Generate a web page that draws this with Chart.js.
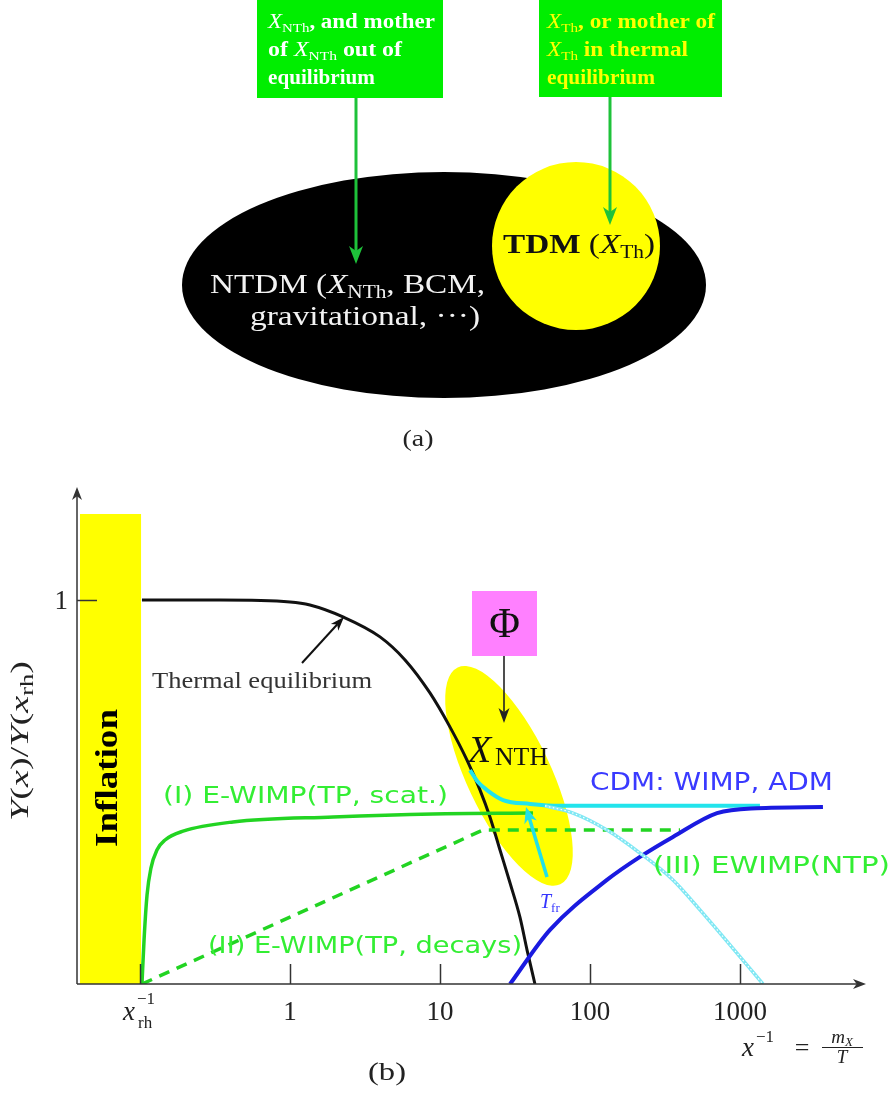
<!DOCTYPE html>
<html><head><meta charset="utf-8">
<script src="https://cdn.jsdelivr.net/npm/chart.js@4/dist/chart.umd.min.js"></script>
<style>html,body{margin:0;padding:0;background:#fff;overflow:hidden}canvas{display:block}</style>
</head><body>
<canvas id="c" width="894" height="1096"></canvas>
<script>
// x = log10(x^-1) = log10(m_X / T), y = Y(x)/Y(x_rh)
const tickValues = [-1, 0, 1, 2, 3];
const tickLabels = ['x_rh^-1', '1', '10', '100', '1000'];
const yTickValues = [1];
const yTickLabels = ['1'];

const thermalX = [-0.987, -0.467, 0, 0.133, 0.353, 0.6, 0.767, 0.933, 1.067, 1.18, 1.267, 1.333, 1.4, 1.467, 1.533, 1.58, 1.633];
const thermalY = [1, 1, 0.995, 0.987, 0.956, 0.904, 0.844, 0.758, 0.669, 0.583, 0.505, 0.435, 0.349, 0.263, 0.174, 0.089, 0];

const scatX = [-0.987, -0.973, -0.953, -0.927, -0.887, -0.833, -0.713, -0.38, 0.287, 0.953, 1.62];
const scatY = [0, 0.115, 0.232, 0.302, 0.349, 0.375, 0.398, 0.422, 0.435, 0.443, 0.445];

const decayX = [-0.987, 1.287, 2.6];
const decayY = [0, 0.401, 0.401];

const cdmX = [1.467, 1.733, 2.113, 2.333, 2.553, 2.847, 3.113, 3.553];
const cdmY = [0, 0.141, 0.271, 0.331, 0.383, 0.445, 0.458, 0.461];

const nthX = [1.2, 1.253, 1.313, 1.42, 1.6, 1.8, 3.133];
const nthY = [0.557, 0.526, 0.505, 0.479, 0.469, 0.464, 0.464];

const ntpX = [1.7, 1.887, 2.113, 2.333, 2.553, 2.733, 2.933, 3.153];
const ntpY = [0.464, 0.445, 0.401, 0.341, 0.271, 0.193, 0.102, 0];

const inflationX = [-1.4, -0.993];
const inflationTop = 1.224;

const SERIF = '"Liberation Serif","Times New Roman",serif';
const SANS = '"DejaVu Sans",sans-serif';
const F = (st, sz, fam) => `${st} ${sz}px ${fam || SERIF}`;

function runsWidth(ctx, runs) { let w = 0; for (const r of runs) { ctx.font = r.f; w += ctx.measureText(r.t).width; } return w; }
function drawRuns(ctx, runs, x, y, o = {}) {
  const nat = runsWidth(ctx, runs);
  const sx = o.w ? o.w / nat : 1;
  const total = nat * sx;
  let x0 = x;
  if (o.align === 'center') x0 = x - total / 2; else if (o.align === 'right') x0 = x - total;
  ctx.save();
  ctx.translate(x0, y);
  ctx.scale(sx, 1);
  ctx.textBaseline = 'alphabetic'; ctx.textAlign = 'left';
  let cx = 0;
  for (const r of runs) { ctx.font = r.f; ctx.fillStyle = r.c || o.c || '#000'; ctx.fillText(r.t, cx, r.dy || 0); cx += ctx.measureText(r.t).width; }
  ctx.restore();
}
function arrow(ctx, x1, y1, x2, y2, color, lw, hl, hw) {
  const a = Math.atan2(y2 - y1, x2 - x1);
  ctx.save(); ctx.strokeStyle = color; ctx.fillStyle = color; ctx.lineWidth = lw; ctx.lineCap = 'butt';
  ctx.beginPath(); ctx.moveTo(x1, y1); ctx.lineTo(x2 - Math.cos(a) * hl * 0.7, y2 - Math.sin(a) * hl * 0.7); ctx.stroke();
  ctx.translate(x2, y2); ctx.rotate(a);
  ctx.beginPath(); ctx.moveTo(0, 0); ctx.lineTo(-hl, -hw / 2); ctx.lineTo(-hl * 0.72, 0); ctx.lineTo(-hl, hw / 2); ctx.closePath(); ctx.fill();
  ctx.restore();
}

const pts = (xs, ys) => xs.map((x, i) => ({ x, y: ys[i] }));

const drawPlugin = {
  id: 'decor',
  beforeDatasetsDraw(chart) {
    const ctx = chart.ctx, xs = chart.scales.x, ys = chart.scales.y;
    ctx.save();
    // Inflation band
    const x0 = xs.getPixelForValue(inflationX[0]), x1 = xs.getPixelForValue(inflationX[1]);
    const yt = ys.getPixelForValue(inflationTop), yb = ys.getPixelForValue(0);
    ctx.fillStyle = '#ffff00';
    ctx.fillRect(x0, yt, x1 - x0, yb - yt);
    // Non-thermal production region (yellow tilted ellipse)
    const ecx = xs.getPixelForValue(1.46), ecy = ys.getPixelForValue(0.542);
    ctx.beginPath(); ctx.ellipse(ecx, ecy, 120, 42, 64.7 * Math.PI / 180, 0, Math.PI * 2); ctx.fill();
    ctx.restore();
  },
  afterDatasetsDraw(chart) {
    const ctx = chart.ctx, xs = chart.scales.x, ys = chart.scales.y;
    const ca = chart.chartArea;
    ctx.save();
    // Axes
    const ax = '#333';
    ctx.strokeStyle = ax; ctx.lineWidth = 1.5;
    arrow(ctx, ca.left, ca.bottom, ca.right, ca.bottom, ax, 1.5, 13, 10);
    arrow(ctx, ca.left, ca.bottom, ca.left, ca.top, ax, 1.5, 13, 10);
    ctx.strokeStyle = ax; ctx.lineWidth = 1.5;
    tickValues.forEach(v => {
      const px = Math.round(xs.getPixelForValue(v)) + 0.5;
      ctx.beginPath(); ctx.moveTo(px, ca.bottom); ctx.lineTo(px, ca.bottom - 20); ctx.stroke();
    });
    yTickValues.forEach(v => {
      const py = Math.round(ys.getPixelForValue(v)) + 0.5;
      ctx.beginPath(); ctx.moveTo(ca.left, py); ctx.lineTo(ca.left + 20, py); ctx.stroke();
    });
    // Tick labels
    const tc = '#222';
    tickLabels.forEach((lab, i) => {
      const px = xs.getPixelForValue(tickValues[i]);
      if (lab === 'x_rh^-1') {
        const xl = px - 17;
        drawRuns(ctx, [{ t: 'x', f: F('italic', 27) }], xl, 1020, { c: tc });
        drawRuns(ctx, [{ t: '\u22121', f: F('normal', 17) }], xl + 14, 1004, { c: tc });
        drawRuns(ctx, [{ t: 'rh', f: F('normal', 17) }], xl + 15, 1028, { c: tc });
      } else {
        drawRuns(ctx, [{ t: lab, f: F('normal', 27) }], px, 1020, { align: 'center', c: tc });
      }
    });
    yTickLabels.forEach((lab, i) => {
      drawRuns(ctx, [{ t: lab, f: F('normal', 27) }], ca.left - 9, ys.getPixelForValue(yTickValues[i]) + 9, { align: 'right', c: tc });
    });
    // x-axis title x^-1 = m_X / T
    drawRuns(ctx, [{ t: 'x', f: F('italic', 27) }], 742, 1056, { c: tc });
    drawRuns(ctx, [{ t: '\u22121', f: F('normal', 17) }], 756, 1042, { c: tc });
    drawRuns(ctx, [{ t: '=', f: F('normal', 26) }], 802, 1056, { align: 'center', c: tc });
    drawRuns(ctx, [{ t: 'm', f: F('italic', 19) }, { t: 'X', f: F('italic', 13), dy: 3 }], 842, 1043, { align: 'center', c: tc });
    ctx.strokeStyle = tc; ctx.lineWidth = 1;
    ctx.beginPath(); ctx.moveTo(822, 1047.5); ctx.lineTo(863, 1047.5); ctx.stroke();
    drawRuns(ctx, [{ t: 'T', f: F('italic', 19) }], 842, 1063, { align: 'center', c: tc });
    drawRuns(ctx, [{ t: '(b)', f: F('normal', 26) }], 387, 1080, { align: 'center', c: tc, w: 38 });

    // y-axis title
    ctx.save(); ctx.translate(28, 741); ctx.rotate(-Math.PI / 2);
    drawRuns(ctx, [{ t: 'Y', f: F('italic', 26) }, { t: '(', f: F('normal', 26) }, { t: 'x', f: F('italic', 26) }, { t: ')/', f: F('normal', 26) },
      { t: 'Y', f: F('italic', 26) }, { t: '(', f: F('normal', 26) }, { t: 'x', f: F('italic', 26) }, { t: 'rh', f: F('normal', 18), dy: 5 }, { t: ')', f: F('normal', 26) }],
      0, 0, { align: 'center', c: tc, w: 160 });
    ctx.restore();
    // Inflation label
    ctx.save(); ctx.translate(117, 778); ctx.rotate(-Math.PI / 2);
    drawRuns(ctx, [{ t: 'Inflation', f: F('bold', 31) }], 0, 0, { align: 'center', c: '#000', w: 138 });
    ctx.restore();

    // Thermal equilibrium label + arrow
    drawRuns(ctx, [{ t: 'Thermal equilibrium', f: F('normal', 24) }], 152, 688, { c: '#333', w: 220 });
    arrow(ctx, 302, 663, 344, 617, '#111', 2, 14, 10);

    // Phi box
    ctx.fillStyle = '#ff80ff';
    ctx.fillRect(472, 591, 65, 65);
    drawRuns(ctx, [{ t: '\u03A6', f: F('normal', 42) }], 504.5, 637, { align: 'center', c: '#111' });
    arrow(ctx, 504, 656, 504, 723, '#222', 1.6, 15, 11);
    // X_NTH
    drawRuns(ctx, [{ t: 'X', f: F('italic', 38) }], 468, 762, { c: '#111' });
    drawRuns(ctx, [{ t: 'NTH', f: F('normal', 25) }], 495, 765, { c: '#111', w: 53 });

    // T_fr arrow + label
    arrow(ctx, 547, 877, 526, 807, '#22e0e8', 3.5, 16, 13);
    drawRuns(ctx, [{ t: 'T', f: F('italic', 20) }, { t: 'fr', f: F('normal', 13), dy: 4 }], 540, 908, { c: '#3535ff' });

    // Curve labels
    const gl = '#33ee33';
    drawRuns(ctx, [{ t: '(I) E-WIMP(TP, scat.)', f: F('normal', 23, SANS) }], 163, 803, { c: gl, w: 285 });
    drawRuns(ctx, [{ t: '(II) E-WIMP(TP, decays)', f: F('normal', 23, SANS) }], 208, 953, { c: gl, w: 314 });
    drawRuns(ctx, [{ t: '(III) EWIMP(NTP)', f: F('normal', 23, SANS) }], 653, 873, { c: gl, w: 237 });
    drawRuns(ctx, [{ t: 'CDM: WIMP, ADM', f: F('normal', 24, SANS) }], 590, 790, { c: '#3a3aff', w: 243 });

    // ---------- Panel (a) ----------
    ctx.fillStyle = '#000';
    ctx.beginPath(); ctx.ellipse(444, 285, 262, 113, 0, 0, Math.PI * 2); ctx.fill();
    ctx.fillStyle = '#ffff00';
    ctx.beginPath(); ctx.arc(576, 246, 84, 0, Math.PI * 2); ctx.fill();
    ctx.fillStyle = '#00ee00';
    ctx.fillRect(257, 0, 186, 98);
    ctx.fillRect(539, 0, 183, 97);
    const ga = '#1ec23a';
    arrow(ctx, 356, 98, 356, 264, ga, 3, 18, 14);
    arrow(ctx, 610, 97, 610, 225, ga, 3, 18, 14);
    // left box text (white)
    const W = '#ffffff', Yc = '#ffff00';
    drawRuns(ctx, [{ t: 'X', f: F('italic', 20) }, { t: 'NTh', f: F('normal', 13), dy: 4 }, { t: ', and mother', f: F('bold', 20) }], 268, 28, { c: W, w: 167 });
    drawRuns(ctx, [{ t: 'of ', f: F('bold', 20) }, { t: 'X', f: F('italic', 20) }, { t: 'NTh', f: F('normal', 13), dy: 4 }, { t: ' out of', f: F('bold', 20) }], 268, 56, { c: W, w: 134 });
    drawRuns(ctx, [{ t: 'equilibrium', f: F('bold', 20) }], 268, 84, { c: W, w: 107 });
    // right box text (yellow)
    drawRuns(ctx, [{ t: 'X', f: F('italic', 20) }, { t: 'Th', f: F('normal', 13), dy: 4 }, { t: ', or mother of', f: F('bold', 20) }], 547, 28, { c: Yc, w: 168 });
    drawRuns(ctx, [{ t: 'X', f: F('italic', 20) }, { t: 'Th', f: F('normal', 13), dy: 4 }, { t: ' in thermal', f: F('bold', 20) }], 547, 56, { c: Yc, w: 141 });
    drawRuns(ctx, [{ t: 'equilibrium', f: F('bold', 20) }], 547, 84, { c: Yc, w: 108 });
    // ellipse texts
    drawRuns(ctx, [{ t: 'NTDM (', f: F('normal', 28) }, { t: 'X', f: F('italic', 28) }, { t: 'NTh', f: F('normal', 18), dy: 5 }, { t: ', BCM,', f: F('normal', 28) }], 210, 293, { c: '#f2f2f2', w: 275 });
    drawRuns(ctx, [{ t: 'gravitational, \u00B7\u00B7\u00B7)', f: F('normal', 28) }], 250, 325, { c: '#f2f2f2', w: 230 });
    drawRuns(ctx, [{ t: 'TDM', f: F('bold', 28) }, { t: ' (', f: F('normal', 28) }, { t: 'X', f: F('italic', 28) }, { t: 'Th', f: F('normal', 18), dy: 5 }, { t: ')', f: F('normal', 28) }], 503, 253, { c: '#111', w: 152 });
    drawRuns(ctx, [{ t: '(a)', f: F('normal', 24) }], 418, 446, { align: 'center', c: '#222', w: 31 });
    ctx.restore();
  }
};

new Chart(document.getElementById('c').getContext('2d'), {
  type: 'line',
  data: {
    datasets: [
      { label: 'NTP dotted', data: pts(ntpX, ntpY), borderColor: '#ffffff', borderWidth: 1.2, borderDash: [1.5, 2.5], tension: 0.4, cubicInterpolationMode: 'monotone', order: 0 },
      { label: '(III) EWIMP(NTP)', data: pts(ntpX, ntpY), borderColor: '#80e8f4', borderWidth: 3.5, cubicInterpolationMode: 'monotone', order: 1 },
      { label: 'CDM: WIMP, ADM', data: pts(cdmX, cdmY), borderColor: '#1a1ae0', borderWidth: 4, cubicInterpolationMode: 'monotone', order: 2 },
      { label: 'X_NTH', data: pts(nthX, nthY), borderColor: '#22e4ec', borderWidth: 4, cubicInterpolationMode: 'monotone', order: 3 },
      { label: '(I) E-WIMP(TP, scat.)', data: pts(scatX, scatY), borderColor: '#22d422', borderWidth: 3.5, cubicInterpolationMode: 'monotone', order: 4 },
      { label: '(II) E-WIMP(TP, decays)', data: pts(decayX, decayY), borderColor: '#22d422', borderWidth: 3.5, borderDash: [11, 8], tension: 0, order: 5 },
      { label: 'Thermal equilibrium', data: pts(thermalX, thermalY), borderColor: '#111111', borderWidth: 3, cubicInterpolationMode: 'monotone', order: 6 }
    ]
  },
  options: {
    responsive: false, animation: false, devicePixelRatio: 1,
    layout: { padding: { left: 77, right: 28, top: 487, bottom: 112 } },
    plugins: { legend: { display: false }, tooltip: { enabled: false } },
    elements: { point: { radius: 0 } },
    scales: {
      x: { type: 'linear', min: -1.42, max: 3.84, display: false },
      y: { type: 'linear', min: 0, max: 1.2943, display: false }
    }
  },
  plugins: [drawPlugin]
});
</script>
</body></html>
